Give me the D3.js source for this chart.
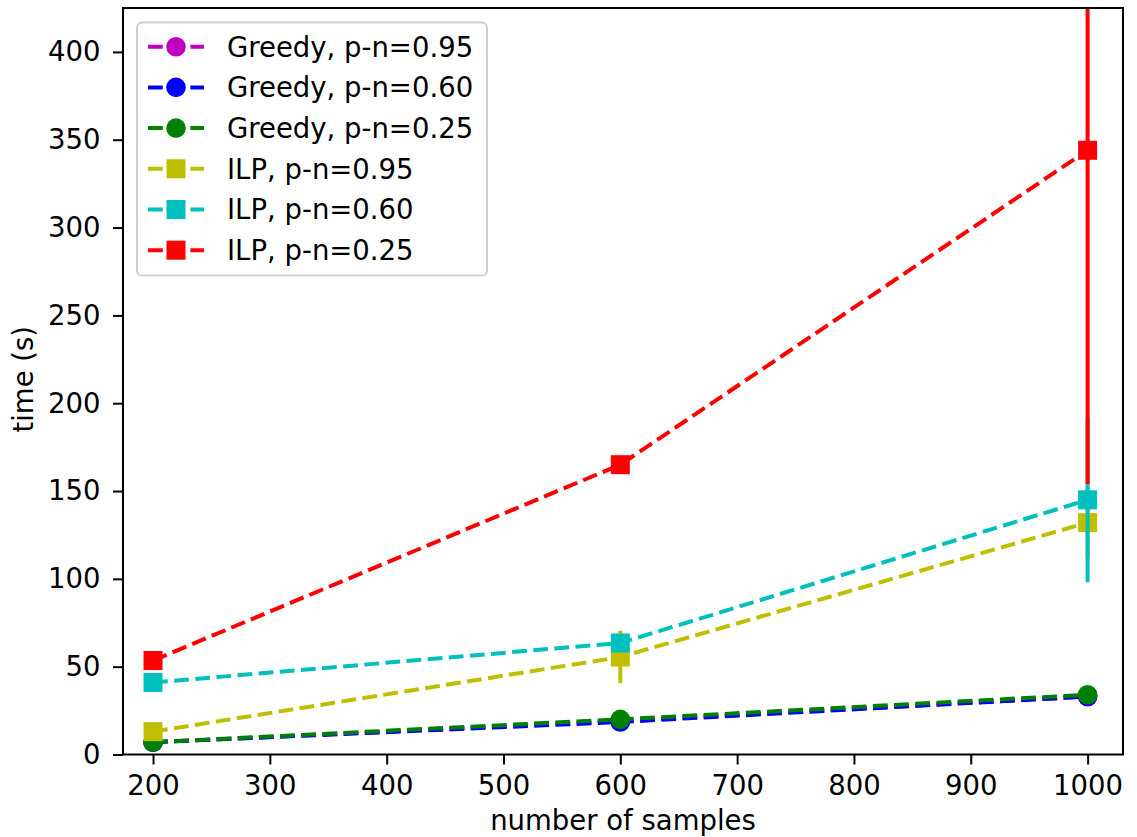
<!DOCTYPE html>
<html><head><meta charset="utf-8">
<script src="https://cdn.jsdelivr.net/npm/d3@7"></script>
<style>body{margin:0;background:#fff}svg{display:block}text{font-family:"DejaVu Sans",sans-serif;fill:#000}</style>
</head><body><svg id="c" width="1137" height="837"></svg>
<script>
const samples = [200, 600, 1000];
const seriesNames = ["Greedy, p-n=0.95","Greedy, p-n=0.60","Greedy, p-n=0.25","ILP, p-n=0.95","ILP, p-n=0.60","ILP, p-n=0.25"];
const seriesColors = ["#bf00bf","#0000ff","#008000","#bfbf00","#00bfbf","#ff0000"];
const seriesMarkers = ["circle","circle","circle","square","square","square"];
const greedy95 = [7, 19, 33];
const greedy60 = [7, 18.5, 33];
const greedy25 = [7, 20, 34];
const ilp95 = [13, 55.5, 132];
const ilp60 = [41, 63.5, 145];
const ilp25 = [53.5, 165, 344];
const greedy95Err = [0.5, 1, 1.5];
const greedy60Err = [0.5, 1, 1.5];
const greedy25Err = [0.5, 1, 1.5];
const ilp95Err = [2, 15, 20];
const ilp60Err = [2, 5, 47];
const ilp25Err = [3, 5, 190];
const xTicks = [200,300,400,500,600,700,800,900,1000];
const yTicks = [0,50,100,150,200,250,300,350,400];

const values = [greedy95, greedy60, greedy25, ilp95, ilp60, ilp25];
const errs = [greedy95Err, greedy60Err, greedy25Err, ilp95Err, ilp60Err, ilp25Err];

const L = 123, R = 1123, T = 8, B = 754.5;
const FS = 27.5;
const x = d3.scaleLinear().domain([174.3, 1030.3]).range([L, R]);
const y = d3.scaleLinear().domain([0, 425]).range([B, T]);
const svg = d3.select("#c");

svg.append("defs").append("clipPath").attr("id","clip")
  .append("rect").attr("x",L).attr("y",T).attr("width",R-L).attr("height",B-T);

const plot = svg.append("g").attr("clip-path","url(#clip)");
const line = d3.line().x((d,i)=>x(samples[i])).y(d=>y(d));
const DASH = "14.8,6.4";

values.forEach((vals, s) => {
  const c = seriesColors[s];
  const g = plot.append("g");
  g.selectAll("line.err").data(vals).enter().append("line")
    .attr("x1",(d,i)=>x(samples[i])).attr("x2",(d,i)=>x(samples[i]))
    .attr("y1",(d,i)=>y(d-errs[s][i])).attr("y2",(d,i)=>y(d+errs[s][i]))
    .attr("stroke",c).attr("stroke-width",4);
  g.append("path").datum(vals).attr("d",line).attr("fill","none")
    .attr("stroke",c).attr("stroke-width",4).attr("stroke-dasharray",DASH);
  if (seriesMarkers[s] === "circle") {
    g.selectAll("circle").data(vals).enter().append("circle")
      .attr("cx",(d,i)=>x(samples[i])).attr("cy",d=>y(d)).attr("r",9.8).attr("fill",c);
  } else {
    g.selectAll("rect").data(vals).enter().append("rect")
      .attr("x",(d,i)=>x(samples[i])-9.5).attr("y",d=>y(d)-9.5)
      .attr("width",19).attr("height",19).attr("fill",c);
  }
});

// axes
const xAxis = svg.append("g").attr("transform",`translate(0,${B})`)
  .call(d3.axisBottom(x).tickValues(xTicks).tickSize(10).tickPadding(10.5).tickFormat(d3.format("d")));
const yAxis = svg.append("g").attr("transform",`translate(${L},0)`)
  .call(d3.axisLeft(y).tickValues(yTicks).tickSize(10).tickPadding(12.5).tickFormat(d3.format("d")));
[xAxis,yAxis].forEach(a=>{
  a.select(".domain").remove();
  a.selectAll(".tick line").attr("stroke","#000").attr("stroke-width",2);
  a.selectAll(".tick text").attr("font-size",FS).attr("font-family","DejaVu Sans").attr("fill","#000");
});
svg.append("rect").attr("x",L).attr("y",T).attr("width",R-L).attr("height",B-T)
  .attr("fill","none").attr("stroke","#000").attr("stroke-width",2);

svg.append("text").attr("x",(L+R)/2).attr("y",830).attr("text-anchor","middle")
  .attr("font-size",FS).text("number of samples");
svg.append("text").attr("transform",`translate(33,${(T+B)/2 - 2}) rotate(-90)`).attr("text-anchor","middle")
  .attr("font-size",FS).text("time (s)");

// legend
const lg = svg.append("g");
lg.append("rect").attr("x",137).attr("y",22.5).attr("width",350).attr("height",253).attr("rx",5)
  .attr("fill","#fff").attr("fill-opacity",0.8).attr("stroke","#d0d0d0").attr("stroke-width",2);
seriesNames.forEach((n, s) => {
  const cy = 46.7 + s*40.7;
  const c = seriesColors[s];
  lg.append("line").attr("x1",148).attr("x2",204).attr("y1",cy).attr("y2",cy)
    .attr("stroke",c).attr("stroke-width",4).attr("stroke-dasharray",DASH);
  if (seriesMarkers[s]==="circle") lg.append("circle").attr("cx",176).attr("cy",cy).attr("r",9.8).attr("fill",c);
  else lg.append("rect").attr("x",176-9.5).attr("y",cy-9.5).attr("width",19).attr("height",19).attr("fill",c);
  lg.append("text").attr("x",227).attr("y",cy).attr("dy","0.36em").attr("font-size",FS).text(n);
});
</script></body></html>
